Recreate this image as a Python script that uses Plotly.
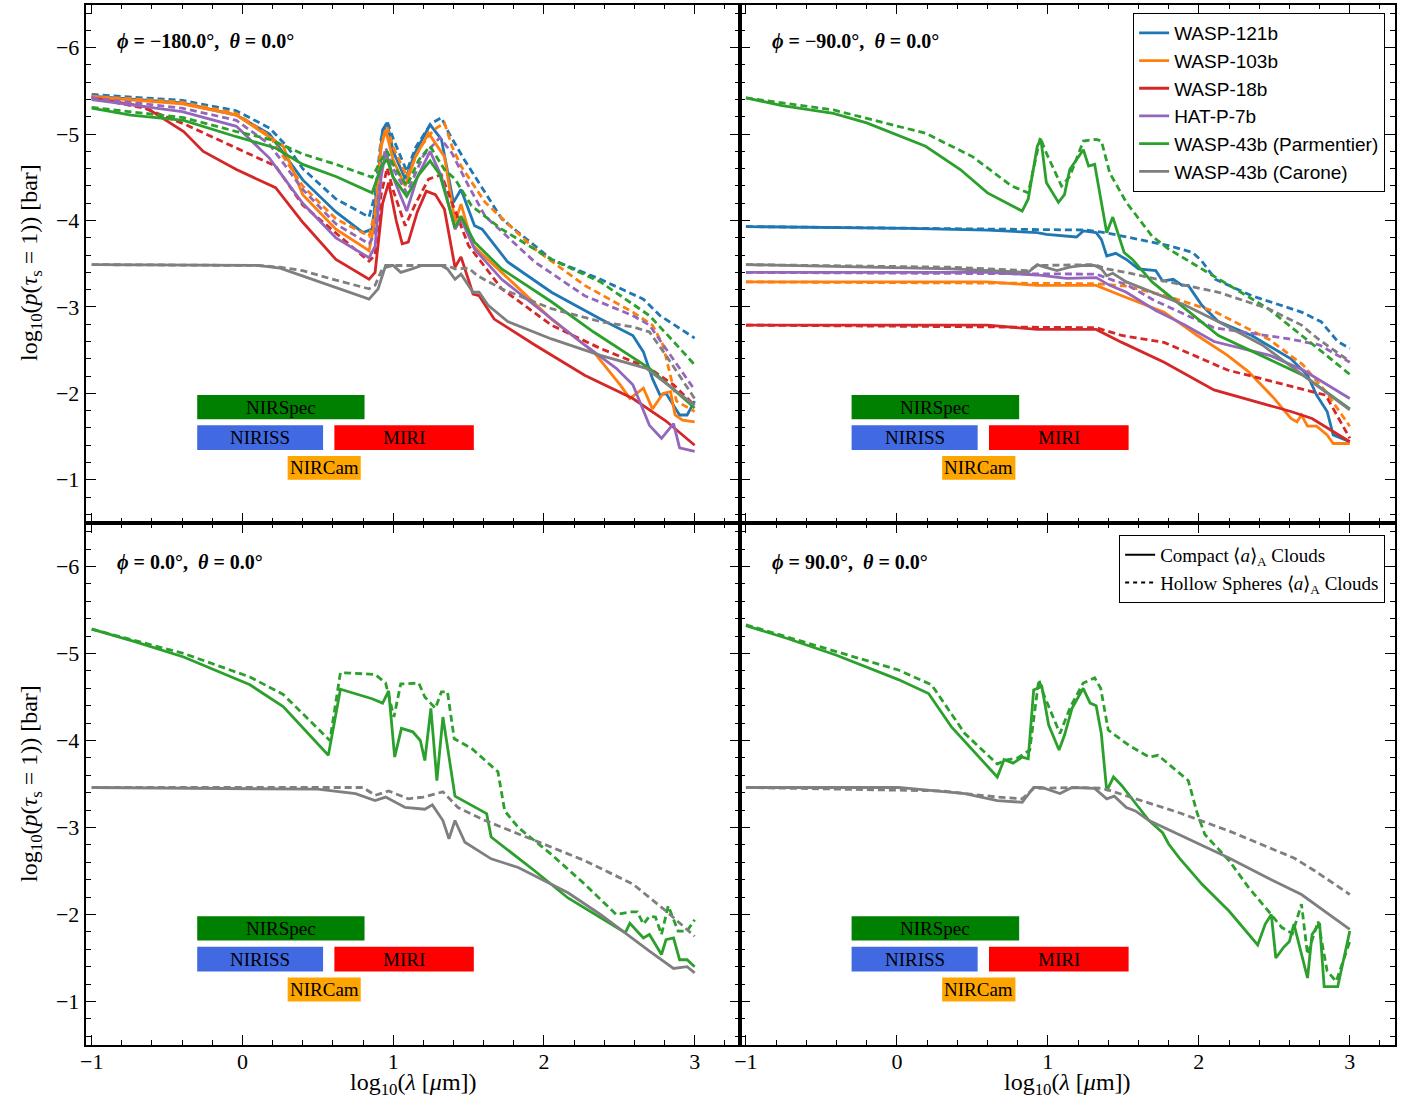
import plotly.graph_objects as go

# ---------------- data (log10 wavelength [um], log10 pressure [bar]) ----------------
PLANETS = ["WASP-121b", "WASP-103b", "WASP-18b", "HAT-P-7b",
           "WASP-43b (Parmentier)", "WASP-43b (Carone)"]
PANEL_LABELS = ["<b><i>ϕ</i> = −180.0°,  <i>θ</i> = 0.0°</b>",
                "<b><i>ϕ</i> = −90.0°,  <i>θ</i> = 0.0°</b>",
                "<b><i>ϕ</i> = 0.0°,  <i>θ</i> = 0.0°</b>",
                "<b><i>ϕ</i> = 90.0°,  <i>θ</i> = 0.0°</b>"]

# ---- phi = -180 ----
M180_W121_C = [(-1,-5.44),(-0.4,-5.36),(-0.04,-5.22),(0.18,-5.0),(0.4,-4.47),(0.62,-4.10),(0.8,-3.86),(0.86,-3.9),(0.9,-4.5),(0.93,-5.05),(0.96,-5.13),(1.0,-4.8),(1.08,-4.48),(1.15,-4.8),(1.245,-5.11),(1.32,-4.94),(1.40,-4.21),(1.45,-4.36),(1.54,-3.94),(1.59,-3.90),(1.76,-3.52),(2.05,-3.17),(2.375,-2.86),(2.59,-2.67),(2.66,-2.48),(2.72,-2.17),(2.77,-1.98),(2.81,-2.0),(2.90,-1.75),(2.95,-1.75),(3.0,-1.91)]
M180_W121_H = [(-1,-5.46),(-0.4,-5.39),(-0.04,-5.27),(0.18,-5.07),(0.3,-4.85),(0.4,-4.60),(0.62,-4.25),(0.84,-4.04),(0.88,-4.3),(0.92,-4.95),(0.96,-5.15),(1.0,-4.95),(1.09,-4.57),(1.15,-4.85),(1.25,-5.12),(1.32,-5.19),(1.37,-5.01),(1.47,-4.71),(1.72,-4.02),(2.05,-3.55),(2.375,-3.32),(2.66,-3.09),(2.77,-2.90),(3.0,-2.64)]
M180_W103_C = [(-1,-5.43),(-0.4,-5.35),(-0.04,-5.22),(0.18,-4.96),(0.27,-4.86),(0.4,-4.30),(0.62,-3.90),(0.84,-3.65),(0.88,-4.0),(0.92,-4.85),(0.95,-5.05),(1.0,-4.7),(1.08,-4.40),(1.15,-4.75),(1.235,-5.01),(1.34,-4.74),(1.41,-3.98),(1.45,-4.19),(1.53,-3.71),(1.72,-3.40),(2.05,-2.86),(2.33,-2.48),(2.51,-2.09),(2.57,-1.94),(2.66,-2.06),(2.72,-1.82),(2.79,-2.0),(2.84,-2.02),(2.87,-1.75),(2.92,-1.69),(3.0,-1.67)]
M180_W103_H = [(-1,-5.44),(-0.4,-5.37),(-0.04,-5.24),(0.18,-4.98),(0.4,-4.40),(0.62,-4.02),(0.84,-3.82),(0.88,-4.1),(0.92,-4.9),(0.96,-5.08),(1.0,-4.85),(1.09,-4.51),(1.18,-4.85),(1.27,-5.05),(1.34,-5.13),(1.39,-4.86),(1.45,-4.63),(1.61,-4.21),(1.94,-3.67),(2.27,-3.25),(2.59,-2.94),(2.72,-2.79),(2.79,-2.56),(2.84,-2.21),(2.88,-1.91),(3.0,-1.79)]
M180_W18_C = [(-1,-5.42),(-0.65,-5.32),(-0.39,-5.03),(-0.26,-4.80),(-0.04,-4.59),(0.22,-4.38),(0.4,-3.98),(0.62,-3.55),(0.84,-3.32),(0.88,-3.4),(0.93,-4.2),(0.97,-4.44),(1.02,-4.0),(1.06,-3.73),(1.10,-3.75),(1.16,-4.1),(1.22,-4.34),(1.28,-4.30),(1.34,-4.13),(1.41,-3.46),(1.45,-3.58),(1.53,-3.15),(1.57,-3.13),(1.67,-2.86),(1.94,-2.56),(2.27,-2.21),(2.59,-1.94),(2.81,-1.68),(3.0,-1.40)]
M180_W18_H = [(-1,-5.42),(-0.65,-5.30),(-0.39,-5.12),(-0.04,-4.84),(0.22,-4.63),(0.4,-4.18),(0.62,-3.86),(0.84,-3.53),(0.88,-3.6),(0.92,-4.3),(0.96,-4.61),(1.0,-4.35),(1.08,-3.94),(1.15,-4.2),(1.235,-4.48),(1.32,-4.53),(1.39,-4.21),(1.50,-3.71),(1.72,-3.21),(2.05,-2.79),(2.375,-2.52),(2.70,-2.29),(2.86,-2.10),(3.0,-1.86)]
M180_HP7_C = [(-1,-5.40),(-0.4,-5.26),(-0.04,-5.09),(0.18,-4.72),(0.4,-4.20),(0.62,-3.80),(0.84,-3.57),(0.88,-3.7),(0.92,-4.5),(0.95,-4.80),(1.0,-4.5),(1.09,-4.11),(1.16,-4.5),(1.245,-4.80),(1.32,-4.51),(1.41,-3.90),(1.45,-4.02),(1.54,-3.67),(1.72,-3.32),(2.05,-2.86),(2.27,-2.56),(2.48,-2.29),(2.59,-2.10),(2.70,-1.63),(2.78,-1.48),(2.86,-1.65),(2.90,-1.37),(3.0,-1.33)]
M180_HP7_H = [(-1,-5.42),(-0.4,-5.30),(-0.04,-5.16),(0.18,-4.88),(0.4,-4.36),(0.62,-3.96),(0.84,-3.73),(0.88,-3.85),(0.92,-4.6),(0.95,-4.84),(1.0,-4.6),(1.09,-4.32),(1.2,-4.75),(1.31,-4.96),(1.39,-4.78),(1.50,-4.40),(1.61,-4.05),(1.94,-3.52),(2.27,-3.13),(2.59,-2.90),(2.70,-2.79),(2.81,-2.52),(2.90,-2.29),(3.0,-2.04)]
M180_W43P_C = [(-1,-5.30),(-0.74,-5.22),(-0.39,-5.16),(-0.04,-4.97),(0.22,-4.84),(0.4,-4.65),(0.62,-4.51),(0.86,-4.32),(0.92,-4.62),(0.96,-4.71),(1.0,-4.5),(1.09,-4.28),(1.17,-4.53),(1.245,-4.69),(1.31,-4.53),(1.41,-3.92),(1.45,-4.05),(1.54,-3.75),(1.72,-3.44),(2.05,-3.06),(2.33,-2.71),(2.70,-2.29),(3.0,-1.83)]
M180_W43P_H = [(-1,-5.31),(-0.39,-5.19),(-0.04,-5.03),(0.18,-4.94),(0.4,-4.77),(0.62,-4.65),(0.86,-4.50),(0.92,-4.7),(0.96,-4.80),(1.0,-4.65),(1.09,-4.40),(1.17,-4.7),(1.245,-4.86),(1.34,-4.59),(1.41,-4.48),(1.52,-4.17),(1.72,-3.90),(2.05,-3.55),(2.375,-3.29),(2.70,-2.90),(2.86,-2.60),(3.0,-2.33)]
M180_W43C_C = [(-1,-3.49),(0.1,-3.48),(0.25,-3.45),(0.4,-3.36),(0.62,-3.23),(0.84,-3.09),(0.90,-3.21),(0.95,-3.48),(1.0,-3.48),(1.05,-3.40),(1.125,-3.44),(1.19,-3.48),(1.32,-3.48),(1.36,-3.44),(1.41,-3.32),(1.45,-3.38),(1.53,-3.17),(1.57,-3.17),(1.63,-3.02),(1.76,-2.83),(2.05,-2.63),(2.375,-2.44),(2.68,-2.29),(2.77,-2.17),(3.0,-1.86)]
M180_W43C_H = [(-1,-3.49),(0.1,-3.48),(0.25,-3.46),(0.4,-3.42),(0.62,-3.31),(0.84,-3.21),(0.88,-3.25),(0.93,-3.45),(1.0,-3.48),(1.36,-3.48),(1.41,-3.44),(1.50,-3.45),(1.56,-3.36),(1.72,-3.21),(2.05,-2.98),(2.375,-2.83),(2.59,-2.77),(2.70,-2.71),(2.81,-2.44),(3.0,-1.94)]

# ---- phi = -90 ----
M90_W121_C = [(-1,-3.93),(0.08,-3.91),(0.6,-3.89),(0.93,-3.86),(0.99,-3.84),(1.19,-3.81),(1.235,-3.88),(1.32,-3.86),(1.355,-3.78),(1.39,-3.59),(1.45,-3.62),(1.52,-3.55),(1.60,-3.44),(1.715,-3.42),(1.76,-3.30),(1.83,-3.32),(1.89,-3.25),(1.93,-3.25),(2.02,-3.02),(2.13,-2.83),(2.35,-2.67),(2.61,-2.40),(2.72,-2.21),(2.78,-1.98),(2.85,-1.79),(2.89,-1.52),(3.0,-1.44)]
M90_W121_H = [(-1,-3.93),(0.9,-3.89),(1.26,-3.89),(1.38,-3.86),(1.52,-3.81),(1.80,-3.71),(1.96,-3.63),(2.02,-3.53),(2.11,-3.32),(2.35,-3.13),(2.68,-2.94),(2.81,-2.83),(2.92,-2.60),(3.0,-2.52)]
M90_W103_C = [(-1,-3.29),(0.6,-3.29),(0.93,-3.25),(1.32,-3.25),(1.49,-3.13),(1.77,-2.94),(1.99,-2.67),(2.19,-2.44),(2.33,-2.25),(2.50,-1.94),(2.61,-1.71),(2.65,-1.67),(2.68,-1.75),(2.72,-1.62),(2.78,-1.62),(2.85,-1.52),(2.89,-1.42),(3.0,-1.42)]
M90_W103_H = [(-1,-3.29),(1.32,-3.27),(1.52,-3.24),(1.8,-3.12),(2.1,-2.95),(2.47,-2.62),(2.69,-2.33),(2.84,-2.02),(3.0,-1.62)]
M90_W18_C = [(-1,-2.79),(0.6,-2.79),(0.93,-2.74),(1.32,-2.74),(1.49,-2.59),(1.77,-2.36),(2.10,-2.04),(2.61,-1.79),(2.75,-1.71),(3.0,-1.44)]
M90_W18_H = [(-1,-2.79),(1.32,-2.76),(1.49,-2.67),(1.77,-2.59),(2.19,-2.27),(2.61,-2.08),(2.84,-1.98),(3.0,-1.48)]
M90_HP7_C = [(-1,-3.40),(0.6,-3.40),(0.93,-3.37),(1.125,-3.33),(1.32,-3.34),(1.41,-3.25),(1.52,-3.17),(1.715,-2.96),(1.91,-2.79),(2.10,-2.60),(2.47,-2.44),(2.69,-2.27),(3.0,-1.94)]
M90_HP7_H = [(-1,-3.40),(0.93,-3.39),(1.32,-3.38),(1.43,-3.31),(1.52,-3.26),(1.7,-3.08),(1.95,-2.88),(2.1,-2.76),(2.37,-2.69),(2.6,-2.63),(2.8,-2.56),(3.0,-2.36)]
M90_W43P_C = [(-1,-5.42),(-0.76,-5.33),(-0.42,-5.24),(-0.2,-5.13),(0.19,-4.86),(0.42,-4.59),(0.6,-4.32),(0.83,-4.11),(0.87,-4.25),(0.93,-4.86),(0.954,-4.94),(0.99,-4.44),(1.07,-4.21),(1.11,-4.30),(1.145,-4.59),(1.235,-4.82),(1.27,-4.63),(1.31,-4.65),(1.39,-3.86),(1.43,-4.04),(1.505,-3.63),(1.56,-3.55),(1.69,-3.29),(1.91,-2.98),(2.13,-2.67),(2.69,-2.21),(3.0,-1.82)]
M90_W43P_H = [(-1,-5.42),(-0.42,-5.28),(0.19,-5.01),(0.5,-4.74),(0.76,-4.40),(0.87,-4.32),(0.95,-4.96),(0.98,-4.82),(1.09,-4.40),(1.145,-4.51),(1.235,-4.92),(1.32,-4.94),(1.355,-4.92),(1.41,-4.55),(1.52,-4.21),(1.69,-3.82),(1.80,-3.67),(2.13,-3.32),(2.46,-2.98),(2.76,-2.56),(3.0,-2.22)]
M90_W43C_C = [(-1,-3.49),(0.36,-3.44),(0.87,-3.40),(0.93,-3.49),(0.98,-3.46),(1.06,-3.42),(1.145,-3.46),(1.235,-3.48),(1.31,-3.48),(1.355,-3.44),(1.39,-3.36),(1.43,-3.39),(1.52,-3.29),(1.69,-3.17),(1.91,-3.02),(2.13,-2.83),(2.42,-2.56),(2.69,-2.21),(3.0,-1.81)]
M90_W43C_H = [(-1,-3.49),(0.36,-3.46),(0.87,-3.42),(0.93,-3.48),(1.31,-3.49),(1.39,-3.44),(1.52,-3.40),(1.80,-3.29),(2.13,-3.17),(2.46,-2.98),(2.68,-2.79),(2.79,-2.63),(3.0,-2.37)]

# ---- phi = 0 ----
P0_W43P_C = [(-1,-5.28),(-0.72,-5.14),(-0.39,-4.96),(0.05,-4.64),(0.27,-4.39),(0.57,-3.83),(0.65,-4.59),(0.86,-4.48),(0.93,-4.43),(0.97,-4.57),(1.01,-3.81),(1.055,-4.14),(1.13,-4.10),(1.18,-4.00),(1.21,-3.77),(1.25,-4.37),(1.29,-3.54),(1.33,-4.27),(1.41,-3.36),(1.62,-3.16),(1.65,-2.89),(1.94,-2.50),(2.16,-2.19),(2.375,-1.96),(2.54,-1.79),(2.57,-1.90),(2.66,-1.73),(2.70,-1.77),(2.78,-1.54),(2.81,-1.71),(2.86,-1.73),(2.90,-1.48),(2.95,-1.48),(3.0,-1.40)]
P0_W43P_H = [(-1,-5.28),(-0.39,-5.0),(0.05,-4.73),(0.27,-4.53),(0.58,-4.0),(0.65,-4.78),(0.88,-4.76),(0.95,-4.66),(1.005,-4.27),(1.05,-4.65),(1.17,-4.66),(1.21,-4.50),(1.28,-4.37),(1.32,-4.56),(1.36,-4.56),(1.405,-4.02),(1.52,-3.91),(1.695,-3.64),(1.74,-3.19),(1.83,-3.00),(2.05,-2.69),(2.27,-2.35),(2.48,-2.00),(2.57,-2.03),(2.62,-2.03),(2.66,-1.89),(2.70,-1.98),(2.74,-1.97),(2.78,-1.77),(2.825,-2.10),(2.89,-1.81),(2.95,-1.81),(3.0,-1.94)]
P0_W43C_C = [(-1,-3.46),(0.5,-3.44),(0.75,-3.39),(0.88,-3.31),(0.95,-3.35),(1.08,-3.23),(1.21,-3.21),(1.26,-3.26),(1.33,-3.08),(1.37,-2.87),(1.41,-3.08),(1.476,-2.83),(1.65,-2.64),(1.83,-2.54),(2.16,-2.25),(2.375,-2.00),(2.70,-1.58),(2.86,-1.38),(2.95,-1.40),(3.0,-1.33)]
P0_W43C_H = [(-1,-3.46),(0.8,-3.46),(0.88,-3.37),(0.97,-3.42),(1.10,-3.33),(1.20,-3.35),(1.33,-3.41),(1.43,-3.23),(1.61,-3.08),(1.94,-2.85),(2.27,-2.62),(2.59,-2.35),(2.81,-2.04),(3.0,-1.75)]

# ---- phi = 90 ----
P90_W43P_C = [(-1,-5.32),(-0.72,-5.17),(-0.4,-4.98),(0.01,-4.70),(0.21,-4.54),(0.36,-4.16),(0.665,-3.58),(0.71,-3.78),(0.77,-3.74),(0.83,-3.81),(0.87,-3.79),(0.906,-4.58),(0.96,-4.62),(1.005,-4.18),(1.074,-3.89),(1.11,-4.06),(1.16,-4.37),(1.234,-4.60),(1.28,-4.43),(1.32,-4.40),(1.354,-4.08),(1.39,-3.42),(1.435,-3.58),(1.49,-3.48),(1.584,-3.27),(1.67,-3.08),(1.76,-2.94),(1.80,-2.81),(1.87,-2.65),(2.02,-2.35),(2.20,-2.04),(2.39,-1.65),(2.44,-1.89),(2.48,-2.00),(2.51,-1.50),(2.56,-1.62),(2.60,-1.69),(2.63,-1.89),(2.72,-1.27),(2.75,-1.77),(2.80,-1.90),(2.83,-1.17),(2.92,-1.17),(3.0,-1.81)]
P90_W43P_H = [(-1,-5.33),(-0.4,-5.02),(0.01,-4.81),(0.23,-4.64),(0.45,-4.08),(0.665,-3.73),(0.71,-3.77),(0.80,-3.80),(0.88,-3.89),(0.94,-4.70),(0.97,-4.54),(1.08,-4.08),(1.15,-4.39),(1.234,-4.66),(1.31,-4.72),(1.35,-4.6),(1.40,-4.12),(1.54,-3.94),(1.67,-3.81),(1.73,-3.83),(1.825,-3.69),(1.93,-3.54),(1.99,-3.16),(2.04,-2.92),(2.20,-2.62),(2.33,-2.31),(2.46,-2.04),(2.55,-1.85),(2.62,-1.78),(2.68,-2.12),(2.72,-1.54),(2.79,-1.92),(2.85,-1.35),(2.91,-1.23),(3.0,-1.69)]
P90_W43C_C = [(-1,-3.46),(0.01,-3.46),(0.45,-3.39),(0.665,-3.31),(0.83,-3.29),(0.906,-3.46),(0.96,-3.46),(1.08,-3.39),(1.16,-3.46),(1.31,-3.45),(1.39,-3.33),(1.44,-3.36),(1.52,-3.23),(1.58,-3.19),(1.67,-3.08),(1.87,-2.92),(2.20,-2.65),(2.48,-2.40),(2.68,-2.23),(3.0,-1.83)]
P90_W43C_H = [(-1,-3.46),(0.3,-3.42),(0.665,-3.35),(0.83,-3.33),(0.906,-3.45),(1.2,-3.46),(1.365,-3.45),(1.54,-3.35),(1.87,-3.17),(2.20,-2.96),(2.63,-2.65),(2.77,-2.50),(3.0,-2.23)]

# JWST instrument coverage bands (log10 wavelength) and rows
INSTRUMENTS = ["NIRSpec", "NIRISS", "MIRI", "NIRCam"]
INSTR_X0 = [-0.30, -0.30, 0.61, 0.30]
INSTR_X1 = [0.81, 0.535, 1.535, 0.785]
INSTR_ROW = [0, 1, 1, 2]

# ---------------- styling ----------------
COLORS = ["#1f77b4", "#ff7f0e", "#d62728", "#9467bd", "#2ca02c", "#7f7f7f"]
INSTR_COLORS = ["#008000", "#4169e1", "#ff0000", "#ffa500"]
ROW_Y = [(-1.98, -1.70), (-1.63, -1.345), (-1.275, -1.0)]
SERIF = "Liberation Serif"
SANS = "Liberation Sans"
DASH = "7px,4px"
LW = 2.8

panels = [
    [M180_W121_C, M180_W121_H, M180_W103_C, M180_W103_H, M180_W18_C, M180_W18_H,
     M180_HP7_C, M180_HP7_H, M180_W43P_C, M180_W43P_H, M180_W43C_C, M180_W43C_H],
    [M90_W121_C, M90_W121_H, M90_W103_C, M90_W103_H, M90_W18_C, M90_W18_H,
     M90_HP7_C, M90_HP7_H, M90_W43P_C, M90_W43P_H, M90_W43C_C, M90_W43C_H],
    [None, None, None, None, None, None, None, None,
     P0_W43P_C, P0_W43P_H, P0_W43C_C, P0_W43C_H],
    [None, None, None, None, None, None, None, None,
     P90_W43P_C, P90_W43P_H, P90_W43C_C, P90_W43C_H],
]
axes_ids = [("x", "y"), ("x2", "y2"), ("x3", "y3"), ("x4", "y4")]

fig = go.Figure()
for pi, series in enumerate(panels):
    xa, ya = axes_ids[pi]
    for k in range(6):
        for j, dash in enumerate(["solid", DASH]):
            pts = series[2 * k + j]
            if pts is None:
                continue
            fig.add_trace(go.Scatter(
                x=[p[0] for p in pts], y=[p[1] for p in pts], mode="lines",
                line=dict(color=COLORS[k], width=LW, dash=dash),
                name=PLANETS[k], legend="legend",
                showlegend=(pi == 0 and j == 0),
                xaxis=xa, yaxis=ya, hoverinfo="skip"))

# cloud-type legend entries
fig.add_trace(go.Scatter(x=[None], y=[None], mode="lines",
                         line=dict(color="black", width=2),
                         name="Compact ⟨<i>a</i>⟩<sub>A</sub> Clouds",
                         legend="legend2", xaxis="x4", yaxis="y4"))
fig.add_trace(go.Scatter(x=[None], y=[None], mode="lines",
                         line=dict(color="black", width=2, dash="4px,4px"),
                         name="Hollow Spheres ⟨<i>a</i>⟩<sub>A</sub> Clouds",
                         legend="legend2", xaxis="x4", yaxis="y4"))

W, H = 1416, 1102
XL = [80 / W, 737 / W]
XR = [737 / W, 1395 / W]
YU = [1 - 523 / H, 1 - 4.5 / H]
YD = [1 - 1045 / H, 1 - 523 / H]


def xaxis(domain, labels, anchor):
    return dict(domain=domain, anchor=anchor, range=[-1.04, 3.3], showline=True,
                linecolor="black", linewidth=1.8, mirror="allticks", ticks="inside",
                ticklen=10, tickwidth=1.4, tickcolor="black", dtick=1, tick0=0,
                minor=dict(ticks="inside", ticklen=5, dtick=0.2, tick0=0,
                           tickcolor="black", tickwidth=1.1),
                showgrid=False, zeroline=False, showticklabels=labels,
                ticklabelstandoff=-4,
                tickfont=dict(family=SERIF, size=22, color="black"))


def yaxis(domain, labels, anchor):
    return dict(domain=domain, anchor=anchor, range=[-0.5, -6.5], showline=True,
                linecolor="black", linewidth=1.8, mirror="allticks", ticks="inside",
                ticklen=10, tickwidth=1.4, tickcolor="black", dtick=1, tick0=0,
                minor=dict(ticks="inside", ticklen=5, dtick=0.2, tick0=0,
                           tickcolor="black", tickwidth=1.1),
                showgrid=False, zeroline=False, showticklabels=labels,
                tickfont=dict(family=SERIF, size=22, color="black"))


shapes, annotations = [], []
for pi, (xa, ya) in enumerate(axes_ids):
    for name, x0, x1, row, col in zip(INSTRUMENTS, INSTR_X0, INSTR_X1, INSTR_ROW, INSTR_COLORS):
        y0, y1 = ROW_Y[row]
        shapes.append(dict(type="rect", xref=xa, yref=ya, x0=x0, x1=x1, y0=y0, y1=y1,
                           fillcolor=col, line=dict(width=0), layer="above"))
        annotations.append(dict(xref=xa, yref=ya, x=(x0 + x1) / 2, y=(y0 + y1) / 2,
                                text=name, showarrow=False,
                                font=dict(family=SERIF, size=19, color="black")))

label_pos = [(109 / W, 1 - 42 / H), (767 / W, 1 - 42 / H),
             (109 / W, 1 - 562 / H), (767 / W, 1 - 562 / H)]
for (px, py), txt in zip(label_pos, PANEL_LABELS):
    annotations.append(dict(xref="paper", yref="paper", x=px, y=py, xanchor="left",
                            yanchor="middle", text=txt, showarrow=False,
                            font=dict(family=SERIF, size=20, color="black")))

ytitle = "log<sub>10</sub>(<i>p</i>(<i>τ</i><sub>s</sub> = 1)) [bar]"
xtitle = "log<sub>10</sub>(<i>λ</i> [<i>μ</i>m])"
for yc in (1 - 262 / H, 1 - 783 / H):
    annotations.append(dict(xref="paper", yref="paper", x=25 / W, y=yc, textangle=-90,
                            text=ytitle, showarrow=False, xanchor="center", yanchor="middle",
                            font=dict(family=SERIF, size=24, color="black")))
for xc in (409 / W, 1066 / W):
    annotations.append(dict(xref="paper", yref="paper", x=xc, y=1 - 1084 / H,
                            text=xtitle, showarrow=False, xanchor="center", yanchor="middle",
                            font=dict(family=SERIF, size=24, color="black")))

fig.update_layout(
    width=W, height=H, margin=dict(l=0, r=0, t=0, b=0),
    paper_bgcolor="white", plot_bgcolor="white",
    xaxis=xaxis(XL, False, "y"), yaxis=yaxis(YU, True, "x"),
    xaxis2=xaxis(XR, False, "y2"), yaxis2=yaxis(YU, False, "x2"),
    xaxis3=xaxis(XL, True, "y3"), yaxis3=yaxis(YD, True, "x3"),
    xaxis4=xaxis(XR, True, "y4"), yaxis4=yaxis(YD, False, "x4"),
    shapes=shapes, annotations=annotations, showlegend=True,
    legend=dict(x=1385 / W, xanchor="right", y=1 - 13 / H, yanchor="top",
                bordercolor="black", borderwidth=1, bgcolor="white",
                font=dict(family=SANS, size=19, color="black"), tracegroupgap=0),
    legend2=dict(x=1385 / W, xanchor="right", y=1 - 535 / H, yanchor="top",
                 bordercolor="black", borderwidth=1, bgcolor="white",
                 font=dict(family=SERIF, size=19, color="black")),
)

fig.write_html("out.html")
